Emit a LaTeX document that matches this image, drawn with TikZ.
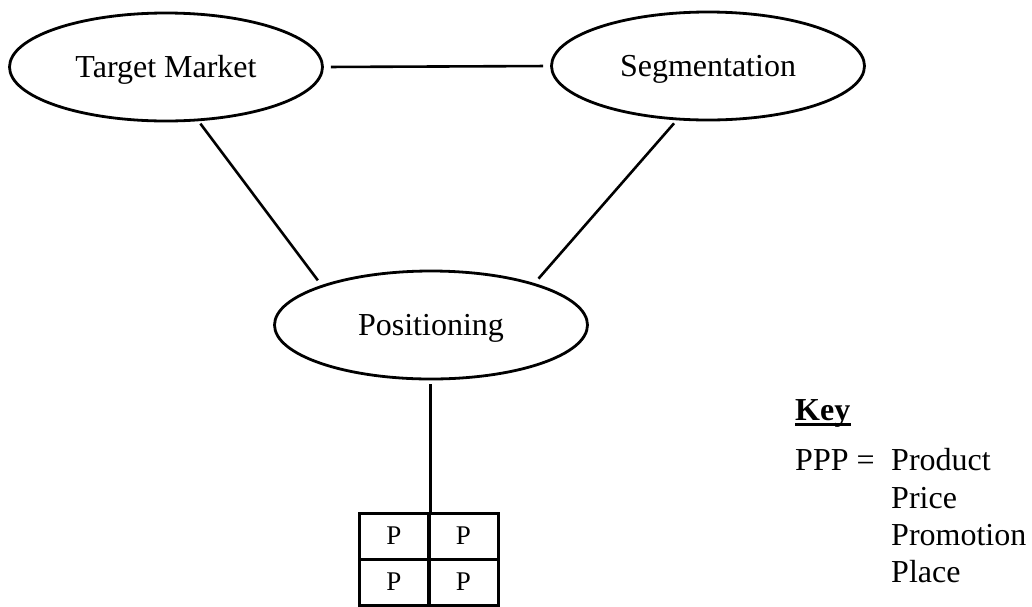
\documentclass[tikz,border=0pt]{standalone}
\usepackage{fontspec}
\setmainfont{Liberation Serif}
\usetikzlibrary{shapes.geometric}
\begin{document}
\begin{tikzpicture}[x=1pt,y=-1pt,
  oval/.style={ellipse,draw,line width=2.8pt,minimum width=313pt,minimum height=108pt,inner sep=0pt,
    font=\fontsize{32}{36}\selectfont,text height=21pt,text depth=0pt},
  link/.style={line width=2.6pt},
  cell/.style={rectangle,draw,line width=3pt,minimum width=70pt,minimum height=46pt,inner sep=0pt,
    font=\fontsize{27}{30}\selectfont},
  keytext/.style={anchor=base west,inner sep=0pt,font=\fontsize{32}{37}\selectfont}]
\useasboundingbox (0,0) rectangle (1032,606);
\node[oval] (tm) at (166,67) {Target Market};
\node[oval] (seg) at (708,66) {Segmentation};
\node[oval] (pos) at (431,325) {Positioning};
\draw[link,shorten <=7pt,shorten >=7pt] (tm.east) -- (seg.west);
\draw[link,shorten <=3pt,shorten >=6pt] (tm.-59) -- (pos.160);
\draw[link,shorten <=4pt,shorten >=6pt] (seg.-120) -- (pos.22);
\node[cell] (p1) at (394,536) {P};
\node[cell] (p2) at (463.5,536) {P};
\node[cell] (p3) at (394,582) {P};
\node[cell] (p4) at (463.5,582) {P};
\draw[link,shorten <=4pt] (pos.south -| p1.north east) -- (p1.north east);
\node[keytext,font=\fontsize{32}{37}\selectfont\bfseries] (key) at (795,420) {Key};
\draw[line width=3.5pt] ([yshift=-4.5pt]key.base west) -- ([yshift=-4.5pt]key.base east);
\node[keytext] (ppp) at (795,470) {PPP =};
\node[keytext] (k1) at (891,470) {Product};
\node[keytext] (k2) at (891,508) {Price};
\node[keytext] (k3) at (891,545) {Promotion};
\node[keytext] (k4) at (891,582) {Place};
\end{tikzpicture}
\end{document}
